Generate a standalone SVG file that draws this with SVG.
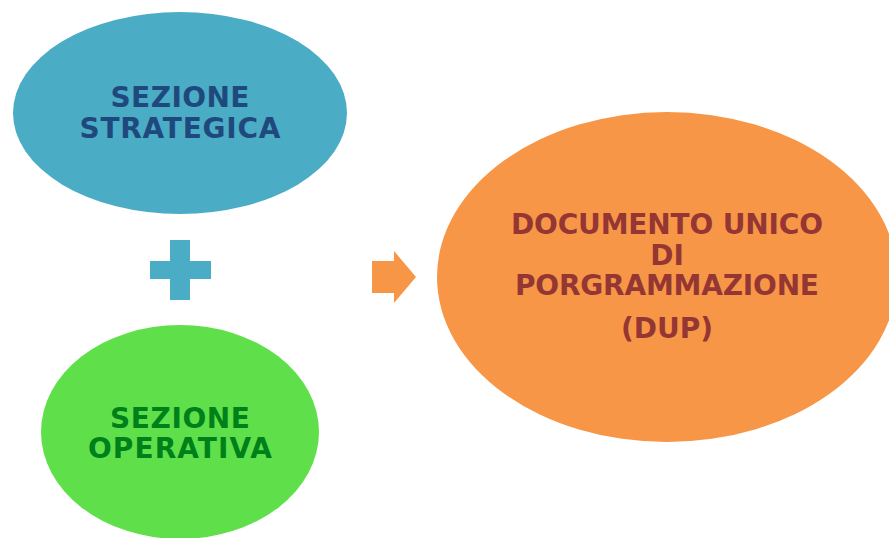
<svg xmlns="http://www.w3.org/2000/svg" width="889" height="538" viewBox="0 0 889 538">
<style>
text{font-family:"DejaVu Sans","Liberation Sans",sans-serif;font-weight:bold;font-size:28px;text-anchor:middle}
.t1{fill:#1F497D}
.t2{fill:#00801A}
.t3{fill:#943634}
</style>
<rect width="889" height="538" fill="#FFFFFF"/>
<g id="strategica">
<ellipse cx="180" cy="113" rx="167" ry="101" fill="#4BACC6"/>
<text class="t1" x="180" y="107" textLength="139" lengthAdjust="spacing">SEZIONE</text>
<text class="t1" x="180" y="138" textLength="201" lengthAdjust="spacing">STRATEGICA</text>
</g>
<g id="plus">
<path d="M170 240H190V261H211V279H190V300H170V279H150V261H170Z" fill="#4BACC6"/>
</g>
<g id="operativa">
<ellipse cx="180" cy="432" rx="139" ry="107" fill="#5FE04A"/>
<text class="t2" x="180" y="428" textLength="140" lengthAdjust="spacing">SEZIONE</text>
<text class="t2" x="180" y="458" textLength="184" lengthAdjust="spacing">OPERATIVA</text>
</g>
<g id="connectors">
<path d="M372 261H394V251L416 277L394 303V293H372Z" fill="#F79646"/>
</g>
<g id="dup">
<ellipse cx="667" cy="277" rx="230" ry="165" fill="#F79646"/>
<text class="t3" x="667" y="234" textLength="312" lengthAdjust="spacing">DOCUMENTO UNICO</text>
<text class="t3" x="667" y="265">DI</text>
<text class="t3" x="667" y="295" textLength="304" lengthAdjust="spacing">PORGRAMMAZIONE</text>
<text class="t3" x="667" y="338">(DUP)</text>
</g>
</svg>
